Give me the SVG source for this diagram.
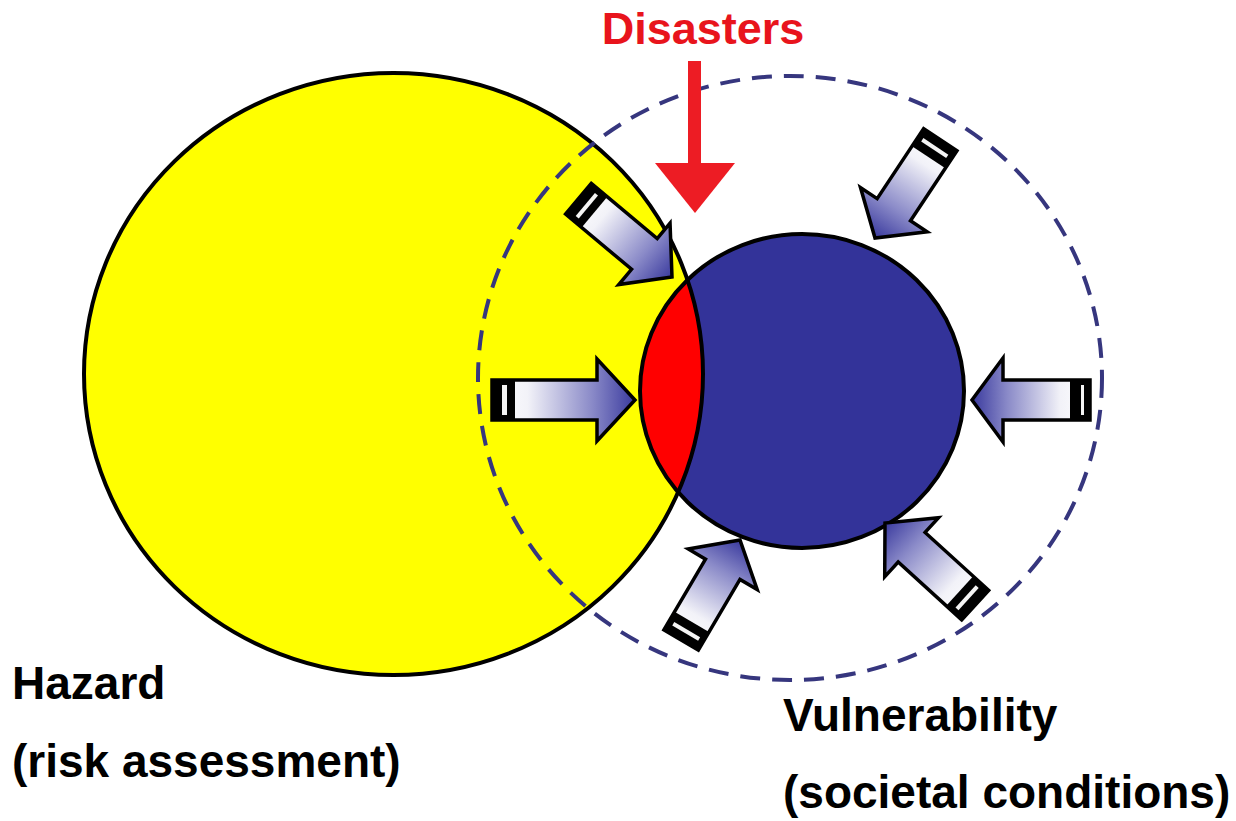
<svg xmlns="http://www.w3.org/2000/svg" width="1236" height="821" viewBox="0 0 1236 821">
  <style>
    .lbl { font-family: "Liberation Sans", Arial, sans-serif; font-weight: bold; font-size: 46px; fill: #000; }
    .dis { font-family: "Liberation Sans", Arial, sans-serif; font-weight: bold; font-size: 45px; fill: #e8141c; }
    .outline { fill: none; stroke: #000; stroke-width: 4; }
    .barrow { fill: url(#grad); stroke: #000; stroke-width: 3.5; stroke-linejoin: miter; }
    .cap { fill: #000; }
    .stripe { fill: #f4f4f4; }
  </style>
  <defs>
    <linearGradient id="grad" x1="0" y1="0" x2="1" y2="0">
      <stop offset="0" stop-color="#ffffff"/>
      <stop offset="0.25" stop-color="#f2f2f8"/>
      <stop offset="0.7" stop-color="#8a8ac8"/>
      <stop offset="1" stop-color="#3a3a9e"/>
    </linearGradient>
    <clipPath id="yellowClip">
      <ellipse cx="393.5" cy="374" rx="309.5" ry="301"/>
    </clipPath>
    <clipPath id="blueClip">
      <ellipse cx="802" cy="391" rx="162" ry="157"/>
    </clipPath>
  </defs>

  <g id="hazard">
    <ellipse cx="393.5" cy="374" rx="309.5" ry="301" fill="#ffff00" stroke="#000" stroke-width="4"/>
  </g>

  <g id="vulnerability-zone">
    <ellipse cx="790" cy="378" rx="312" ry="302" fill="none" stroke="#36367e" stroke-width="4" stroke-dasharray="20 12"/>
  </g>

  <g id="vulnerability">
    <ellipse cx="802" cy="391" rx="162" ry="157" fill="#333399"/>
  </g>

  <g id="disaster-zone">
    <ellipse cx="802" cy="391" rx="162" ry="157" fill="#ff0000" clip-path="url(#yellowClip)"/>
    <ellipse cx="393.5" cy="374" rx="309.5" ry="301" class="outline" clip-path="url(#blueClip)"/>
    <ellipse cx="802" cy="391" rx="162" ry="157" class="outline"/>
  </g>

  <g id="connectors">
    <!-- left horizontal -->
    <g transform="translate(635,400) rotate(0)">
      <polygon class="barrow" points="-143,-20 -38,-20 -38,-41 0,0 -38,41 -38,20 -143,20"/>
      <rect class="cap" x="-143" y="-20" width="23" height="40"/>
      <rect class="stripe" x="-133" y="-15" width="5" height="30"/>
    </g>
    <!-- top-left diagonal -->
    <g transform="translate(672,277) rotate(39.9)">
      <polygon class="barrow" points="-122,-20 -36,-20 -36,-40 0,0 -36,40 -36,20 -122,20"/>
      <rect class="cap" x="-122" y="-20" width="21" height="40"/>
      <rect class="stripe" x="-113" y="-15" width="4" height="30"/>
    </g>
    <!-- top-right diagonal -->
    <g transform="translate(875,238) rotate(123.6)">
      <polygon class="barrow" points="-118,-20 -34,-20 -34,-40 0,0 -34,40 -34,20 -118,20"/>
      <rect class="cap" x="-118" y="-20" width="21" height="40"/>
      <rect class="stripe" x="-110" y="-15" width="4" height="30"/>
    </g>
    <!-- right horizontal -->
    <g transform="translate(972,400) rotate(180)">
      <polygon class="barrow" points="-118,-20 -31,-20 -31,-42 0,0 -31,42 -31,20 -118,20"/>
      <rect class="cap" x="-118" y="-20" width="20" height="40"/>
      <rect class="stripe" x="-112" y="-15" width="3" height="30"/>
    </g>
    <!-- bottom-left diagonal -->
    <g transform="translate(740,540) rotate(-59.5)">
      <polygon class="barrow" points="-116,-20 -34,-20 -34,-40 0,0 -34,40 -34,20 -116,20"/>
      <rect class="cap" x="-116" y="-20" width="21" height="40"/>
      <rect class="stripe" x="-108" y="-15" width="4" height="30"/>
    </g>
    <!-- bottom-right diagonal -->
    <g transform="translate(885,523) rotate(-137.7)">
      <polygon class="barrow" points="-122,-20 -36,-20 -36,-40 0,0 -36,40 -36,20 -122,20"/>
      <rect class="cap" x="-122" y="-20" width="21" height="40"/>
      <rect class="stripe" x="-113" y="-15" width="4" height="30"/>
    </g>
    <!-- disasters arrow -->
    <g id="disasters-arrow">
      <rect x="688" y="61" width="13" height="104" fill="#ed1c24"/>
      <polygon points="655,163 735,163 695,213" fill="#ed1c24"/>
    </g>
  </g>

  <g id="labels">
    <text class="dis" x="703" y="44" text-anchor="middle">Disasters</text>
    <text class="lbl" x="12" y="699">Hazard</text>
    <text class="lbl" x="12" y="777">(risk assessment)</text>
    <text class="lbl" x="783" y="731">Vulnerability</text>
    <text class="lbl" x="783" y="808">(societal conditions)</text>
  </g>
</svg>
